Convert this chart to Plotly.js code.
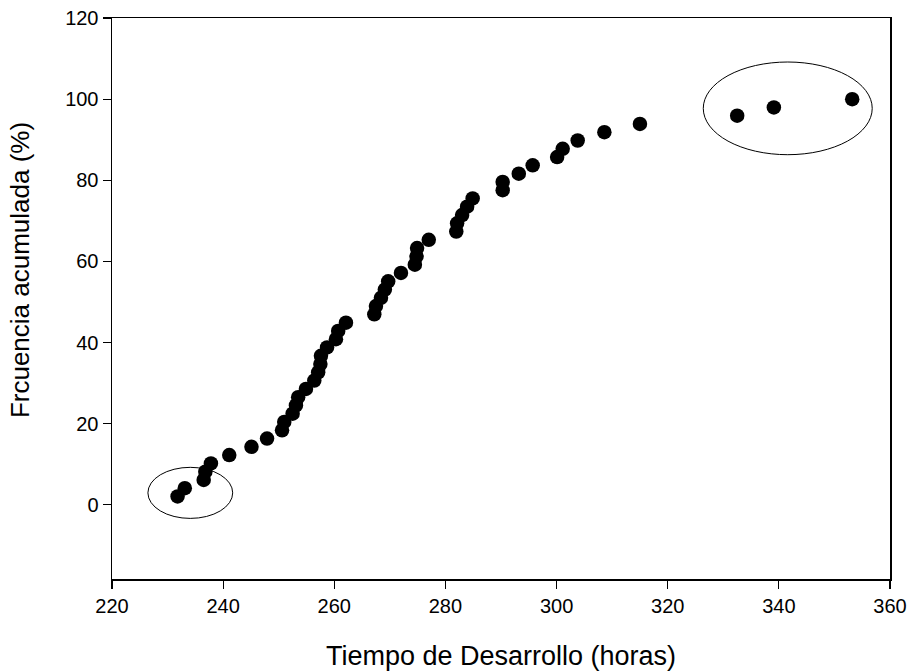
<!DOCTYPE html>
<html>
<head>
<meta charset="utf-8">
<script src="https://cdn.plot.ly/plotly-3.0.1.min.js"></script>
<style>html,body{margin:0;padding:0;background:#fff;}#chart{width:909px;height:671px;}</style>
</head>
<body>
<div id="chart"></div>
<script>
// Development time (hours)
const tiempo = [231.8, 233.1, 236.5, 236.8, 237.8, 241.1, 245.1, 247.9, 250.6, 251.0,
  252.5, 253.1, 253.5, 254.9, 256.4, 257.1, 257.5, 257.6, 258.7, 260.3,
  260.7, 262.1, 267.2, 267.5, 268.4, 269.1, 269.7, 272.0, 274.5, 274.8,
  274.9, 277.0, 281.95, 282.1, 283.0, 283.9, 284.9, 290.3, 290.3, 293.2,
  295.7, 300.1, 301.1, 303.8, 308.6, 315.0, 332.5, 339.1, 353.2];
// Cumulative frequency (%)
const frecuencia = [2.04, 4.08, 6.12, 8.16, 10.2, 12.24, 14.29, 16.33, 18.37, 20.41,
  22.45, 24.49, 26.53, 28.57, 30.61, 32.65, 34.69, 36.73, 38.78, 40.82,
  42.86, 44.9, 46.94, 48.98, 51.02, 53.06, 55.1, 57.14, 59.18, 61.22,
  63.27, 65.31, 67.35, 69.39, 71.43, 73.47, 75.51, 77.55, 79.59, 81.63,
  83.67, 85.71, 87.76, 89.8, 91.84, 93.88, 95.92, 97.96, 100];
const xTicks = [220, 240, 260, 280, 300, 320, 340, 360];
const yTicks = [0, 20, 40, 60, 80, 100, 120];
const xTitle = 'Tiempo de Desarrollo (horas)';
const yTitle = 'Frcuencia acumulada (%)';

const font = 'Liberation Sans, Arial, sans-serif';

const trace = {
  x: tiempo, y: frecuencia, type: 'scatter', mode: 'markers',
  marker: {color: '#000', size: 14.5, line: {width: 0}},
  hoverinfo: 'x+y'
};

const layout = {
  width: 909, height: 671,
  margin: {l: 112, r: 19, t: 18, b: 92},
  paper_bgcolor: '#fff', plot_bgcolor: '#fff',
  showlegend: false,
  font: {family: font, color: '#000', size: 20},
  xaxis: {
    range: [220, 360], tickvals: xTicks, ticktext: xTicks.map(String),
    ticks: 'outside', ticklen: 8, tickwidth: 1.2, tickcolor: '#000',
    showline: true, linecolor: '#000', linewidth: 1.5, mirror: true,
    showgrid: false, zeroline: false,
    tickfont: {family: font, size: 20, color: '#000'},
    title: {text: xTitle, font: {family: font, size: 27, color: '#000'}, standoff: 30}
  },
  yaxis: {
    range: [-18.3, 120], tickvals: yTicks, ticktext: yTicks.map(String),
    ticks: 'outside', ticklen: 8, tickwidth: 1.2, tickcolor: '#000',
    showline: true, linecolor: '#000', linewidth: 1.5, mirror: true,
    showgrid: false, zeroline: false,
    tickfont: {family: font, size: 20, color: '#000'},
    title: {text: ''}
  },
  annotations: [
    {text: yTitle, xref: 'paper', yref: 'paper', x: -0.118, y: 0.551,
     xanchor: 'center', yanchor: 'middle', textangle: -90, showarrow: false,
     font: {family: font, size: 26, color: '#000'}}
  ],
  shapes: [
    {type: 'circle', xref: 'x', yref: 'y', x0: 226.46, x1: 241.72, y0: -3.36, y1: 9.23,
     line: {color: '#000', width: 1}},
    {type: 'circle', xref: 'x', yref: 'y', x0: 326.4, x1: 356.8, y0: 86.3, y1: 109.15,
     line: {color: '#000', width: 1}}
  ]
};

Plotly.newPlot('chart', [trace], layout, {displayModeBar: false, staticPlot: true});
</script>
</body>
</html>
